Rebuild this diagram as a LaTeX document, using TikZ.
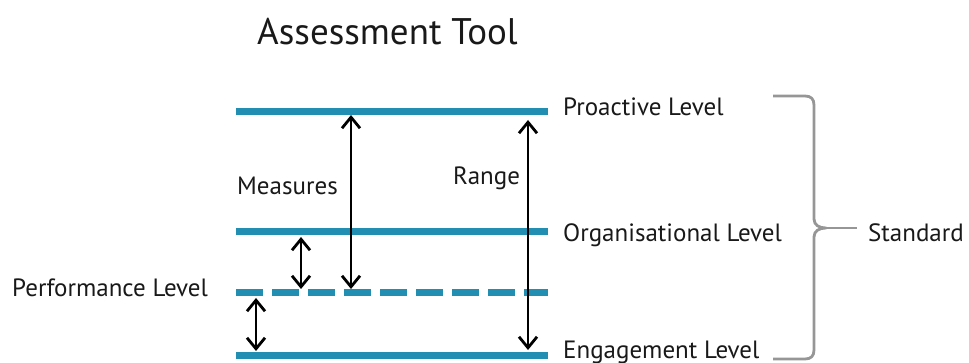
\documentclass[tikz,border=0pt]{standalone}
\usepackage{fontspec}
\setmainfont{PT Sans}
\usetikzlibrary{arrows.meta}
\definecolor{levelblue}{RGB}{34,143,178}
\definecolor{bracegray}{RGB}{150,150,150}
\definecolor{textblack}{RGB}{25,25,25}
\tikzset{
  level/.style={draw=levelblue, line width=7pt},
  dashedlevel/.style={level, dash pattern=on 27pt off 9pt},
  dblarrow/.style={draw=black, line width=2.8pt, {Straight Barb[length=11pt,width=18pt,line width=2.8pt]}-{Straight Barb[length=11pt,width=18pt,line width=2.8pt]}},
  lbl/.style={inner sep=0pt, anchor=base west, text=textblack, font=\fontsize{25}{30}\selectfont},
  bracepath/.style={draw=bracegray, line width=2.8pt, line join=round},
}
\begin{document}
\begin{tikzpicture}[x=1pt,y=-1pt]
\useasboundingbox (0,0) rectangle (969,363);
% level line ends
\coordinate (pa) at (236,112); \coordinate (pb) at (548,112);
\coordinate (oa) at (236,232); \coordinate (ob) at (548,232);
\coordinate (fa) at (236,293); \coordinate (fb) at (548,293);
\coordinate (ea) at (236,355); \coordinate (eb) at (548,355);
\draw[level] (pa) -- (pb);
\draw[level] (oa) -- (ob);
\draw[dashedlevel] (fa) -- (fb);
\draw[level] (ea) -- (eb);
% arrow ends
\coordinate (m1) at (351,115); \coordinate (m2) at (351,289);
\coordinate (r1) at (528,120); \coordinate (r2) at (528,350);
\coordinate (s1) at (301,237); \coordinate (s2) at (301,289);
\coordinate (t1) at (256,298); \coordinate (t2) at (256,351);
\draw[dblarrow] (m1) -- (m2);
\draw[dblarrow] (r1) -- (r2);
\draw[dblarrow] (s1) -- (s2);
\draw[dblarrow] (t1) -- (t2);
% texts
\node[lbl, font=\fontsize{37}{44}\selectfont] (title) at (257,45) {Assessment Tool};
\node[lbl] (proactive) at (563,116) {Proactive Level};
\node[lbl] (organisational) at (563,242) {Organisational Level};
\node[lbl] (engagement) at (563,358) {Engagement Level};
\node[lbl] (performance) at (12,297) {Performance Level};
\node[lbl] (measures) at (237,195) {Measures};
\node[lbl] (range) at (453,185) {Range};
\node[lbl] (standard) at (868,242) {Standard};
% brace
\coordinate (btop) at (773,96);
\coordinate (bbot) at (773,359);
\coordinate (btip) at (826,228);
\coordinate (bend) at (857,228);
\draw[bracepath] (btop) -- (805,96) .. controls (811,96) and (814,99) .. (814,105)
  -- (814,219) .. controls (814,225) and (819,228) .. (btip)
  .. controls (819,228) and (814,231) .. (814,237)
  -- (814,350) .. controls (814,356) and (811,359) .. (805,359) -- (bbot);
\draw[bracepath] (btip) -- (bend);
\end{tikzpicture}
\end{document}
